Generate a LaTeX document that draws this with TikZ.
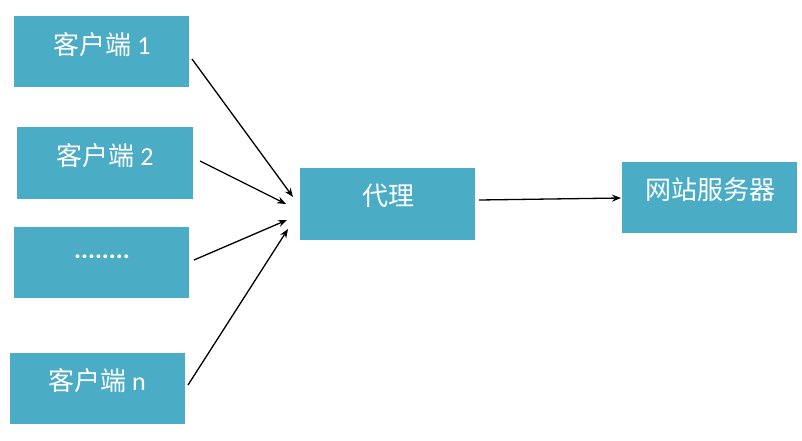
\documentclass[tikz,border=0pt]{standalone}
\usepackage{fontspec}
\setmainfont{Carlito}
\newfontfamily\cjk{Noto Sans CJK SC}
\usetikzlibrary{arrows.meta}
\definecolor{boxteal}{HTML}{4BACC6}
\begin{document}
\begin{tikzpicture}[x=1pt,y=-1pt,
  box/.style={fill=boxteal, draw=none},
  lbl/.style={text=white, font=\fontsize{26}{30}\selectfont, inner sep=0pt, anchor=center},
  arr/.style={draw=black, line width=1.3pt, -{Stealth[length=9pt,width=7pt]}}]
\useasboundingbox (0,0) rectangle (802,440);
% boxes
\fill[box] (14,16) rectangle (189,87);
\fill[box] (17,127) rectangle (193,199);
\fill[box] (14,227) rectangle (189,298);
\fill[box] (10,353) rectangle (185,424);
\fill[box] (300,168) rectangle (475,240);
\fill[box] (622,162) rectangle (797,233);
% labels
\node[lbl] (c1) at (102,45) {{\cjk 客户端} 1};
\node[lbl] (c2) at (105,156) {{\cjk 客户端} 2};
\node[lbl] (c3) at (102,257) {\textbf{........}};
\node[lbl] (cn) at (97,381) {{\cjk 客户端} n};
\node[lbl] (px) at (388,196) {\cjk 代理};
\node[lbl] (sv) at (710,190) {\cjk 网站服务器};
% connector endpoints
\coordinate (c1s) at (192,59);
\coordinate (c1e) at (293,197);
\coordinate (c2s) at (200,161);
\coordinate (c2e) at (286,204);
\coordinate (c3s) at (194,260);
\coordinate (c3e) at (287,220);
\coordinate (cns) at (188,385);
\coordinate (cne) at (288,229);
\coordinate (pxs) at (479,200);
\coordinate (pxe) at (621,198);
\draw[arr] (c1s) -- (c1e);
\draw[arr] (c2s) -- (c2e);
\draw[arr] (c3s) -- (c3e);
\draw[arr] (cns) -- (cne);
\draw[arr] (pxs) -- (pxe);
\end{tikzpicture}
\end{document}
